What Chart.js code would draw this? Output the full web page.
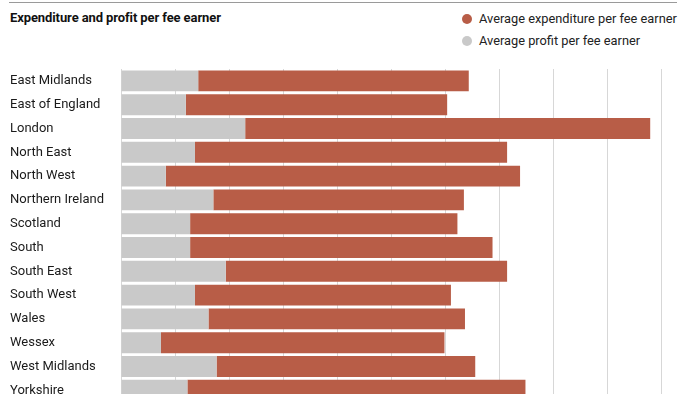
<!DOCTYPE html>
<html>
<head>
<meta charset="utf-8">
<style>
    body { margin: 0; background: #fff; }
    #wrap { position: relative; width: 700px; height: 394px; overflow: hidden; }
    #rule { position: absolute; left: 9px; top: 2px; width: 668px; height: 0; border-top: 1px solid #9a9a9a; }
    #title { position: absolute; left: 10px; top: 10px; font: bold 13px "Roboto", sans-serif; color: #111; letter-spacing: -0.1px; }
    #legend { position: absolute; left: 462px; top: 10px; font: 12.8px "Roboto", sans-serif; color: #222; }
    #legend div { height: 22px; line-height: 17px; white-space: nowrap; }
    #legend span.dot { display: inline-block; width: 10px; height: 10px; border-radius: 50%; margin-right: 7px; vertical-align: -1px; }
    canvas { position: absolute; left: 0; top: 0; }
</style>
</head>
<body>
<div id="wrap">
    <div id="rule"></div>
    <div id="title">Expenditure and profit per fee earner</div>
    <div id="legend"></div>
    <canvas id="myChart" width="700" height="410"></canvas>
</div>

<script src="https://cdn.jsdelivr.net/npm/chart.js"></script>
<script>
    // regions (top to bottom)
    var regions = ['East Midlands', 'East of England', 'London', 'North East', 'North West',
        'Northern Ireland', 'Scotland', 'South', 'South East', 'South West', 'Wales',
        'Wessex', 'West Midlands', 'Yorkshire'];

    // values (gridline = 10 units)
    var profit = [14.3, 12.0, 23.0, 13.7, 8.3, 17.1, 12.8, 12.8, 19.4, 13.7, 16.2, 7.4, 17.7, 12.3];
    var expenditure = [50.1, 48.4, 75.0, 57.8, 65.6, 46.4, 49.5, 56.0, 52.1, 47.4, 47.5, 52.5, 47.9, 62.6];

    var redColor = '#b85d47';
    var greyColor = '#c9c9c9';

    var datasets = [
        { label: 'Average profit per fee earner', data: profit, backgroundColor: greyColor },
        { label: 'Average expenditure per fee earner', data: expenditure, backgroundColor: redColor }
    ];

    // legend (expenditure first, like the original)
    var legendHtml = '';
    datasets.slice().reverse().forEach(function(ds) {
        legendHtml += '<div><span class="dot" style="background:' + ds.backgroundColor + '"></span>' + ds.label + '</div>';
    });
    document.getElementById('legend').innerHTML = legendHtml;

    var ctx = document.getElementById('myChart').getContext('2d');
    new Chart(ctx, {
        type: 'bar',
        data: {
            labels: regions,
            datasets: datasets.map(function(ds) {
                return Object.assign({ categoryPercentage: 1, barPercentage: 0.88, borderWidth: 0 }, ds);
            })
        },
        options: {
            indexAxis: 'y',
            responsive: false,
            animation: false,
            layout: { padding: { top: 69, left: 10, right: 39, bottom: 0 } },
            scales: {
                x: {
                    stacked: true,
                    min: 0,
                    max: 100,
                    z: 1, // gridlines over the bars
                    ticks: { display: false, stepSize: 10 },
                    grid: { color: 'rgba(140,140,140,0.35)', drawTicks: false, lineWidth: 1 },
                    border: { display: false },
                    afterFit: function(scale) { scale.height = 0; }
                },
                y: {
                    stacked: true,
                    grid: { display: false },
                    border: { display: false },
                    ticks: {
                        crossAlign: 'far',
                        padding: 0,
                        color: '#1a1a1a',
                        font: { family: 'Roboto', size: 13 }
                    },
                    afterFit: function(scale) { scale.width = 111; }
                }
            },
            plugins: {
                legend: { display: false },
                tooltip: { enabled: false }
            }
        }
    });
</script>
</body>
</html>
